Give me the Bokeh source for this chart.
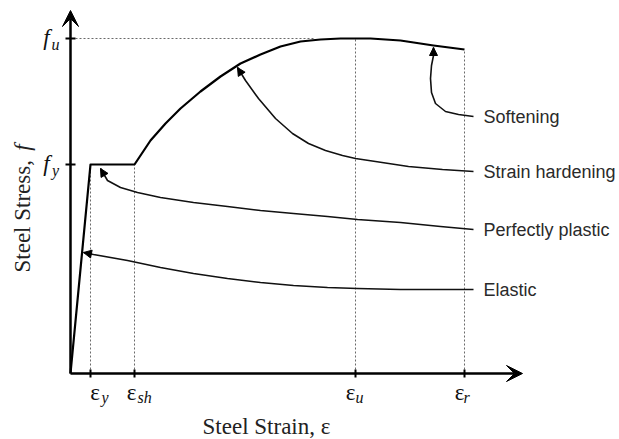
import numpy as np
from bokeh.plotting import figure
from bokeh.models import Range1d, Arrow, VeeHead, NormalHead
from bokeh.core.properties import value
from bokeh.embed import file_html
from bokeh.resources import INLINE

# Schematic steel stress-strain diagram (arbitrary units)
strain_ticks = [0.20, 0.64, 2.85, 3.94]          # eps_y, eps_sh, eps_u, eps_r
strain_subs = ["y", "sh", "u", "r"]
stress_ticks = [2.09, 3.35]                       # f_y, f_u
stress_subs = ["y", "u"]

# backbone curve: elastic, yield plateau, hardening, softening
curve_strain = [0.00, 0.20, 0.64, 0.72, 0.80, 0.95, 1.10, 1.30, 1.50, 1.70,
                1.90, 2.10, 2.30, 2.50, 2.70, 2.85, 3.00, 3.30, 3.63, 3.94]
curve_stress = [0.00, 2.09, 2.09, 2.21, 2.33, 2.50, 2.65, 2.82, 2.97, 3.10,
                3.19, 3.27, 3.32, 3.34, 3.35, 3.35, 3.35, 3.33, 3.28, 3.24]

# pointer curves, from the label end to the arrow tip
soft_strain = [4.03, 3.88, 3.75, 3.65, 3.61, 3.60, 3.61, 3.63, 3.63]
soft_stress = [2.57, 2.59, 2.62, 2.70, 2.81, 2.95, 3.08, 3.18, 3.26]

hard_strain = [4.03, 3.72, 3.38, 3.05, 2.85, 2.72, 2.55, 2.38, 2.22, 2.05, 1.88, 1.75, 1.67]
hard_stress = [2.02, 2.04, 2.07, 2.12, 2.15, 2.18, 2.23, 2.30, 2.40, 2.55, 2.75, 2.93, 3.06]

plastic_strain = [4.03, 3.70, 3.30, 2.87, 2.57, 2.23, 1.90, 1.57, 1.23, 0.90, 0.67, 0.50, 0.37, 0.30]
plastic_stress = [1.44, 1.47, 1.51, 1.54, 1.57, 1.60, 1.63, 1.67, 1.71, 1.76, 1.81, 1.86, 1.93, 2.05]

elastic_strain = [4.03, 3.30, 2.87, 2.57, 2.23, 1.90, 1.57, 1.23, 0.90, 0.57, 0.23, 0.13]
elastic_stress = [0.84, 0.84, 0.85, 0.86, 0.88, 0.91, 0.95, 1.00, 1.06, 1.13, 1.19, 1.21]

response_labels = ["Softening", "Strain hardening", "Perfectly plastic", "Elastic"]

axis_x_end = 4.52
axis_y_end = 3.63
PX = 0.01  # one screen pixel in data units

p = figure(width=619, height=439, x_range=Range1d(-0.70, 5.49), y_range=Range1d(-0.66, 3.73),
           output_backend="svg", toolbar_location=None, min_border=0,
           x_axis_type=None, y_axis_type=None, outline_line_color=None)
p.xgrid.visible = False
p.ygrid.visible = False

dot = dict(line_color="#6a6a6a", line_width=1, line_dash="2 2")

# guide lines
peak_heights = list(np.interp(strain_ticks, curve_strain, curve_stress))
p.segment(x0=strain_ticks, y0=[0] * 4, x1=strain_ticks, y1=peak_heights, **dot)
p.segment(x0=[5 * PX], y0=[stress_ticks[1]], x1=[2.43], y1=[stress_ticks[1]], **dot)

# axes with arrowheads
p.add_layout(Arrow(x_start=0, y_start=0, x_end=axis_x_end, y_end=0, line_width=2.5,
                   end=VeeHead(size=16, fill_color="black", line_color="black")))
p.add_layout(Arrow(x_start=0, y_start=0, x_end=0, y_end=axis_y_end, line_width=2.5,
                   end=VeeHead(size=16, fill_color="black", line_color="black")))
p.segment(x0=strain_ticks, y0=[-4 * PX] * 4, x1=strain_ticks, y1=[4 * PX] * 4,
          line_color="black", line_width=2)
p.segment(x0=[-5 * PX] * 2, y0=stress_ticks, x1=[5 * PX] * 2, y1=stress_ticks,
          line_color="black", line_width=2)

# backbone
p.line(curve_strain, curve_stress, line_color="black", line_width=2.2, line_join="round")

# pointer curves
for xs, ys in [(soft_strain, soft_stress), (hard_strain, hard_stress),
               (plastic_strain, plastic_stress), (elastic_strain, elastic_stress)]:
    p.line(xs, ys, line_color="#111111", line_width=1.6, line_join="round")
    p.add_layout(Arrow(x_start=xs[-2], y_start=ys[-2], x_end=xs[-1], y_end=ys[-1],
                       line_width=0, line_alpha=0,
                       end=NormalHead(size=8, fill_color="black", line_color="black")))

# response labels
p.text(x=[soft_strain[0] + 10 * PX, hard_strain[0] + 10 * PX, plastic_strain[0] + 10 * PX,
          elastic_strain[0] + 10 * PX],
       y=[soft_stress[0], hard_stress[0], plastic_stress[0], elastic_stress[0]],
       text=response_labels, text_font=value("Liberation Sans"), text_font_size="18px",
       text_color="#2a2a2a", text_baseline="middle", text_align="left")

# strain tick labels
eps_dx = [4.5, -3, -5, -5]
sub_dx = [11, 3, 0, -1]
p.text(x=[s + d * PX for s, d in zip(strain_ticks, eps_dx)], y=[-19 * PX] * 4,
       text=["ε"] * 4, text_font=value("Liberation Serif"), text_font_size="23px",
       text_align="center", text_baseline="middle", text_color="#111111")
p.text(x=[s + d * PX for s, d in zip(strain_ticks, sub_dx)], y=[-24 * PX] * 4,
       text=strain_subs, text_font=value("Liberation Serif"), text_font_style="italic",
       text_font_size="16px", text_align="left", text_baseline="middle", text_color="#111111")

# stress tick labels
p.text(x=[-24 * PX] * 2, y=[s + 1 * PX for s in stress_ticks], text=["f"] * 2,
       text_font=value("Liberation Serif"), text_font_style="italic", text_font_size="23px",
       text_align="center", text_baseline="middle", text_color="#111111")
p.text(x=[-15 * PX] * 2, y=[s - 6 * PX for s in stress_ticks], text=stress_subs,
       text_font=value("Liberation Serif"), text_font_style="italic", text_font_size="16px",
       text_align="center", text_baseline="middle", text_color="#111111")

# axis titles
p.text(x=[1.96], y=[-0.53], text=["Steel Strain, ε"], text_font=value("Liberation Serif"),
       text_font_size="23px", text_align="center", text_baseline="middle", text_color="#222222")
p.text(x=[-0.48], y=[1.01], text=["Steel Stress,"], angle=np.pi / 2,
       text_font=value("Liberation Serif"), text_font_size="23px", text_align="left",
       text_baseline="middle", text_color="#222222")
p.text(x=[-0.48], y=[2.26], text=["f"], angle=np.pi / 2,
       text_font=value("Liberation Serif"), text_font_style="italic", text_font_size="23px",
       text_align="center", text_baseline="middle", text_color="#222222")

open("out.html", "w").write(file_html(p, INLINE))
